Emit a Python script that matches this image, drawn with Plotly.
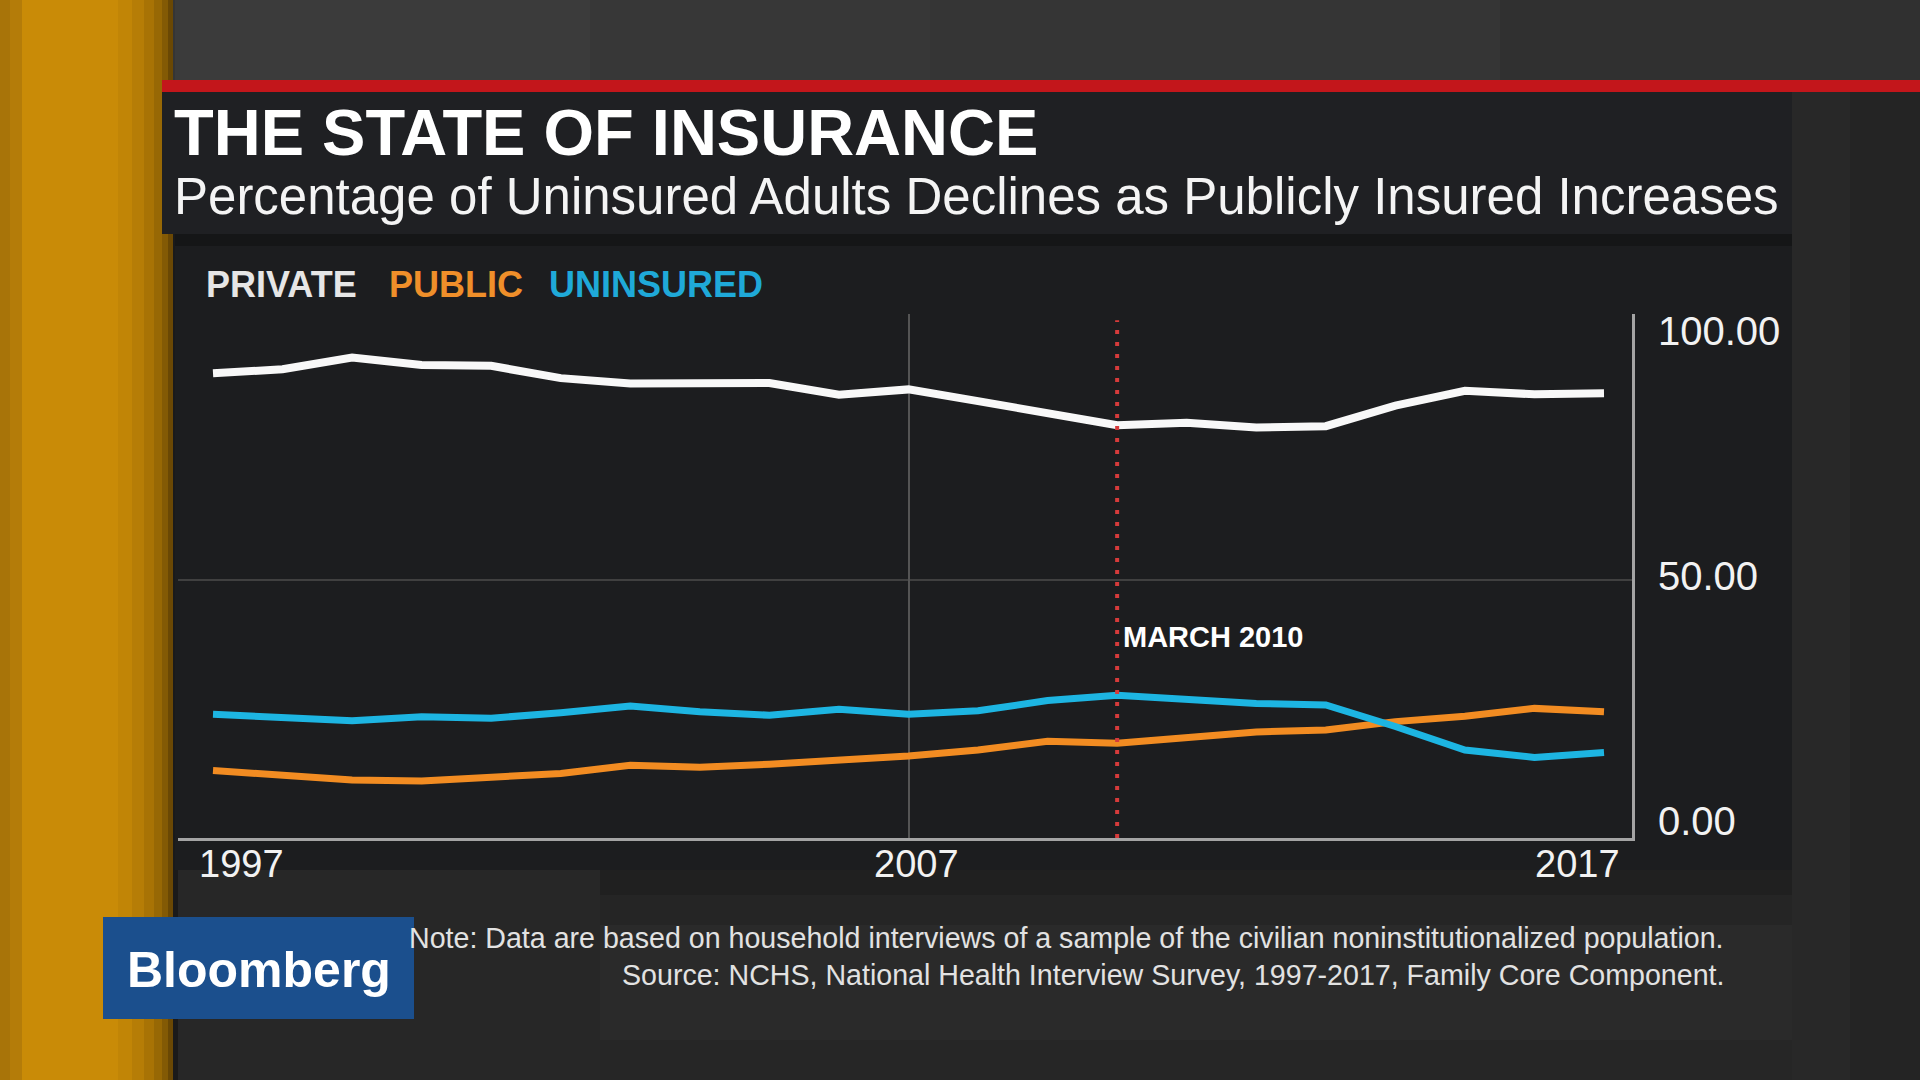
import plotly.graph_objects as go

# ---------------- data ----------------
years = list(range(1997, 2018))
private = [92.2, 93.0, 95.4, 93.9, 93.7, 91.2, 90.1, 90.2, 90.2, 87.8, 88.9,
           86.5, 84.0, 81.6, 82.1, 81.1, 81.4, 85.6, 88.6, 87.9, 88.1]
public = [11.1, 10.0, 9.2, 9.0, 9.7, 10.5, 12.2, 11.8, 12.4, 13.1, 14.1,
          15.3, 17.1, 16.7, 18.0, 19.0, 19.4, 21.1, 22.2, 23.8, 23.1]
uninsured = [22.6, 21.8, 21.3, 22.1, 21.8, 22.9, 24.3, 23.1, 22.4, 23.6, 22.6,
             23.3, 25.4, 26.5, 25.5, 24.8, 24.5, 20.1, 15.3, 13.8, 14.8]
series_names = ["PRIVATE", "PUBLIC", "UNINSURED"]
x_tick_labels = ["1997", "2007", "2017"]
x_tick_years = [1997, 2007, 2017]
y_ticks = [0, 50, 100]
event_year = 2010
event_label = "MARCH 2010"
event_label_value = 38.4

title = "THE STATE OF INSURANCE"
subtitle = "Percentage of Uninsured Adults Declines as Publicly Insured Increases"
note1 = "Note: Data are based on household interviews of a sample of the civilian noninstitutionalized population."
note2 = "Source: NCHS, National Health Interview Survey, 1997-2017, Family Core Component."

# ---------------- style ----------------
W, H = 1920, 1080
FONT = "Liberation Sans"
C_PRIV, C_PUB, C_UNI = "#f8f8f8", "#f28c22", "#1db5e2"
L_PRIV, L_PUB, L_UNI = "#e6e6e6", "#ef8f2a", "#1fa9d8"

def px(x):
    return x / W

def py(y):
    return 1 - y / H

PL, PR, PT, PB = 178, 1632, 314, 838

fig = go.Figure()
for name, vals, col, w in [(series_names[1], public, C_PUB, 7),
                           (series_names[2], uninsured, C_UNI, 7),
                           (series_names[0], private, C_PRIV, 8)]:
    fig.add_trace(go.Scatter(x=years, y=vals, mode="lines", name=name,
                             line=dict(color=col, width=w), hoverinfo="skip"))

shapes = []

def rect(x0, y0, x1, y1, color, layer="below"):
    shapes.append(dict(type="rect", xref="paper", yref="paper",
                       x0=px(x0), x1=px(x1), y0=py(y1), y1=py(y0),
                       fillcolor=color, line=dict(width=0), layer=layer))

# background texture
rect(173, 0, 1920, 80, "#353535")
rect(175, 0, 590, 80, "#3b3b3b")
rect(590, 0, 930, 80, "#373737")
rect(1500, 0, 1920, 80, "#303030")
rect(1792, 92, 1920, 1080, "#282828")
rect(1850, 92, 1920, 1080, "#242424")
rect(175, 870, 1792, 1080, "#2a2a2a")
rect(175, 870, 1792, 895, "#202020")
rect(175, 895, 1792, 925, "#252525")
rect(175, 1040, 1792, 1080, "#262626")
rect(175, 870, 600, 1080, "#272727")
# orange bar (stepped gradient)
rect(0, 0, 173, 1080, "#c98b07")
rect(0, 0, 10, 1080, "#a87409")
rect(10, 0, 22, 1080, "#b47c09")
rect(118, 0, 132, 1080, "#c18506")
rect(132, 0, 144, 1080, "#b67d06")
rect(144, 0, 154, 1080, "#a87305")
rect(154, 0, 162, 1080, "#976805")
rect(162, 0, 168, 1080, "#835a05")
rect(168, 0, 173, 1080, "#6a4804")
rect(173, 80, 178, 1080, "#1a1a1a")
# red line and title box
rect(162, 80, 1920, 92, "#c3161b")
rect(162, 92, 1792, 234, "#1f2023")
# chart panel
rect(175, 234, 1792, 870, "#1c1d1f")
rect(175, 234, 1792, 246, "#151617")
# Bloomberg box
rect(103, 917, 414, 1019, "#1b4f8d", layer="above")

shapes.append(dict(type="line", xref="x domain", x0=0, x1=1, yref="y", y0=50, y1=50,
                   line=dict(color="#4c4c4c", width=1.5), layer="below"))
shapes.append(dict(type="line", xref="x", x0=event_year, x1=event_year,
                   yref="y domain", y0=0, y1=0.988,
                   line=dict(color="#d63b3b", width=4, dash="4px,8px"), layer="above"))

annotations = []

def text(x, y, s, size, color, xanchor="left", bold=False, yanchor="middle"):
    annotations.append(dict(xref="paper", yref="paper", x=px(x), y=py(y),
                            text=f"<b>{s}</b>" if bold else s, showarrow=False,
                            xanchor=xanchor, yanchor=yanchor,
                            font=dict(family=FONT, size=size, color=color)))

text(172, 132, title, 65, "#ffffff", bold=True)
text(172, 197, subtitle, 51, "#f4f4f4")
for label, xl, col in zip(series_names, [204, 387, 547], [L_PRIV, L_PUB, L_UNI]):
    text(xl, 284, label, 36, col, bold=True)
text(1726, 938, note1, 28.6, "#e2e2e2", xanchor="right")
text(1726, 975, note2, 28.6, "#e2e2e2", xanchor="right")
text(259, 970, "Bloomberg", 50, "#ffffff", xanchor="center", bold=True)

anchors = ["left", "center", "right"]
shifts = [-16, 8, 18]
for lab, yr, anc, sh in zip(x_tick_labels, x_tick_years, anchors, shifts):
    annotations.append(dict(xref="x", yref="paper", x=yr, y=py(864), text=lab,
                            showarrow=False, xanchor=anc, yanchor="middle", xshift=sh,
                            font=dict(family=FONT, size=38, color="#f2f2f2")))

annotations.append(dict(xref="x", yref="y", x=event_year, y=event_label_value,
                        text=f"<b>{event_label}</b>", showarrow=False,
                        xanchor="left", yanchor="middle", xshift=4,
                        font=dict(family=FONT, size=29, color="#ffffff")))

x_per = (1604 - 213) / 20.0
x0 = 1997 - (213 - PL) / x_per
x1 = 2017 + (PR - 1604) / x_per
y_per = 4.9
y_lo = -(PB - 825) / y_per
y_hi = (825 - PT) / y_per

fig.update_layout(
    width=W, height=H, autosize=False,
    margin=dict(l=0, r=0, t=0, b=0, pad=0, autoexpand=False),
    paper_bgcolor="#2b2b2b", plot_bgcolor="#222326",
    showlegend=False, shapes=shapes, annotations=annotations,
    xaxis=dict(domain=[px(PL), px(PR)], range=[x0, x1], tickvals=[2007],
               showticklabels=False, ticks="", showgrid=True, automargin=False,
               gridcolor="#545454", gridwidth=1.5, zeroline=False,
               showline=True, linecolor="#a4a4a4", linewidth=3),
    yaxis=dict(domain=[py(PB), py(PT)], range=[y_lo, y_hi], side="right",
               tickvals=y_ticks, tickformat=".2f", showgrid=False, zeroline=False,
               ticks="outside", ticklen=15, tickcolor="rgba(0,0,0,0)", automargin=False,
               ticklabelshift=-4,
               tickfont=dict(family=FONT, size=40, color="#f2f2f2"),
               showline=True, linecolor="#a4a4a4", linewidth=3),
)

post = "document.body.style.margin='0';document.body.style.overflow='hidden';"
fig.write_html("out.html", config={"displayModeBar": False}, post_script=post)
